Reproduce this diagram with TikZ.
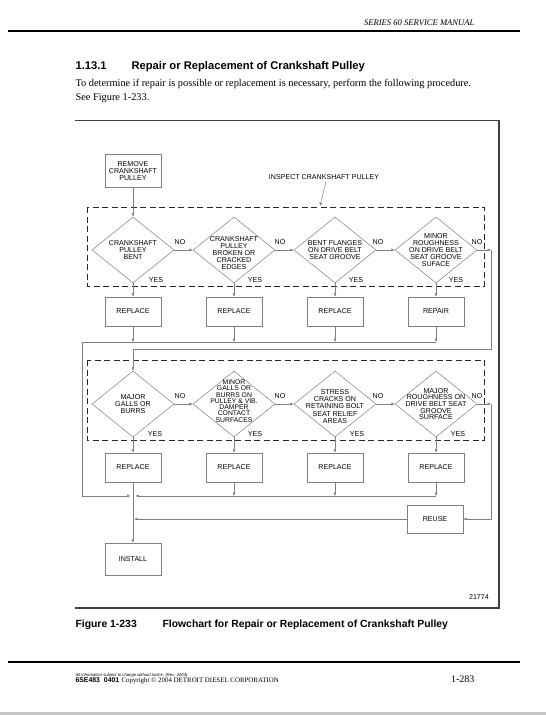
\documentclass[tikz,border=0pt]{standalone}
\usepackage{fontspec}
\setmainfont{Liberation Serif}
\setsansfont{Liberation Sans}
\usetikzlibrary{arrows.meta,shapes.geometric}

\definecolor{linegray}{gray}{0.5}
\definecolor{framegray}{gray}{0.25}
\newcommand{\diagfont}{\sffamily\fontsize{7.1}{7.2}\selectfont}

\begin{document}
\begin{tikzpicture}[x=1pt,y=-1pt]
\tikzset{
  stepbox/.style={rectangle,draw=linegray,line width=0.5pt,minimum width=56pt,minimum height=29pt,inner sep=0pt,font=\diagfont,align=center},
  decision/.style={diamond,draw=linegray,line width=0.5pt,minimum width=82pt,minimum height=66pt,inner sep=0pt},
  dtext/.style={font=\diagfont,align=center,inner sep=0pt},
  tag/.style={font=\diagfont,inner sep=0pt},
  flowline/.style={draw=linegray,line width=0.5pt},
  flowarrow/.style={flowline,-{Latex[length=3.4pt,width=3pt]}},
  stagebox/.style={draw=black!85,line width=0.9pt,dash pattern=on 6pt off 3.5pt}
}
\useasboundingbox (0,0) rectangle (546,715);
\fill[white] (0,0) rectangle (546,715);
\fill[black!22] (0,712) rectangle (546,715);

% page header and text
\node[anchor=base east,font=\itshape\fontsize{8.6}{10}\selectfont] (n_header) at (478,25) {SERIES 60 SERVICE MANUAL};
\draw[line width=2.2pt] (8,31) -- (520,31);
\node[anchor=base west,font=\sffamily\bfseries\fontsize{11.2}{13}\selectfont] (n_secnum) at (72,69) {1.13.1};
\node[anchor=base west,font=\sffamily\bfseries\fontsize{11.2}{13}\selectfont] (n_title) at (128,69) {Repair or Replacement of Crankshaft Pulley};
\node[anchor=base west,font=\fontsize{10.35}{12}\selectfont] (n_body1) at (72,86) {To determine if repair is possible or replacement is necessary, perform the following procedure.};
\node[anchor=base west,font=\fontsize{10.35}{12}\selectfont] (n_body2) at (72,100) {See Figure 1-233.};

% figure frame
\draw[framegray,line width=0.7pt] (75,120) -- (499,120);
\draw[framegray,line width=1.3pt] (499,119.7) -- (499,608) -- (75,608);
\node[tag,anchor=base east] (n_fignum) at (489,599) {21774};

% stage boxes
\draw[stagebox] (87,207) rectangle (484,286);
\draw[stagebox] (87,360) rectangle (484,440);
\node[tag] (n_inspect) at (324,177) {INSPECT CRANKSHAFT PULLEY};
\coordinate (c_stage) at (320,206);
\draw[flowarrow] (n_inspect.south) ++(2,2) -- (c_stage);

% nodes
\node[stepbox,minimum height=33pt] (n_remove) at (133,171) {REMOVE\\CRANKSHAFT\\PULLEY};

\node[decision,label={[dtext]center:{CRANKSHAFT\\PULLEY\\BENT}}] (n_q1) at (133,250) {};
\node[decision,label={[dtext,yshift=-3pt]center:{CRANKSHAFT\\PULLEY\\BROKEN OR\\CRACKED\\EDGES}}] (n_q2) at (234,250) {};
\node[decision,label={[dtext]center:{BENT FLANGES\\ON DRIVE BELT\\SEAT GROOVE}}] (n_q3) at (335,250) {};
\node[decision,label={[dtext]center:{MINOR\\ROUGHNESS\\ON DRIVE BELT\\SEAT GROOVE\\SUFACE}}] (n_q4) at (436,250) {};

\node[stepbox] (n_r1) at (133,311.5) {REPLACE};
\node[stepbox] (n_r2) at (234,311.5) {REPLACE};
\node[stepbox] (n_r3) at (335,311.5) {REPLACE};
\node[stepbox] (n_r4) at (436,311.5) {REPAIR};

\node[decision,label={[dtext]center:{MAJOR\\GALLS OR\\BURRS}}] (n_q5) at (133,404) {};
\node[decision,label={[dtext,yshift=3pt,font=\sffamily\fontsize{6.8}{6.3}\selectfont]center:{MINOR\\GALLS OR\\BURRS ON\\PULLEY \& VIB.\\DAMPER\\CONTACT\\SURFACES}}] (n_q6) at (234,404) {};
\node[decision,label={[dtext,yshift=-2.5pt]center:{STRESS\\CRACKS ON\\RETAINING BOLT\\SEAT RELIEF\\AREAS}}] (n_q7) at (335,404) {};
\node[decision,label={[dtext,font=\sffamily\fontsize{7.1}{6.7}\selectfont]center:{MAJOR\\ROUGHNESS ON\\DRIVE BELT SEAT\\GROOVE\\SURFACE}}] (n_q8) at (436,404) {};

\node[stepbox] (n_r5) at (133,467.5) {REPLACE};
\node[stepbox] (n_r6) at (234,467.5) {REPLACE};
\node[stepbox] (n_r7) at (335,467.5) {REPLACE};
\node[stepbox] (n_r8) at (436,467.5) {REPLACE};

\node[stepbox,minimum height=28pt] (n_reuse) at (435,519) {REUSE};
\node[stepbox,minimum height=32pt] (n_install) at (133,559) {INSTALL};

% yes / no tags
\node[tag] (n_no1) at (180,242) {NO};
\node[tag] (n_no2) at (280,242) {NO};
\node[tag] (n_no3) at (378,242) {NO};
\node[tag] (n_no4) at (477,242) {NO};
\node[tag] (n_no5) at (180,396) {NO};
\node[tag] (n_no6) at (280,396) {NO};
\node[tag] (n_no7) at (378,396) {NO};
\node[tag] (n_no8) at (477,396) {NO};
\node[tag] (n_yes1) at (156,280) {YES};
\node[tag] (n_yes2) at (255,280) {YES};
\node[tag] (n_yes3) at (356,280) {YES};
\node[tag] (n_yes4) at (456,280) {YES};
\node[tag] (n_yes5) at (155,434) {YES};
\node[tag] (n_yes6) at (255,434) {YES};
\node[tag] (n_yes7) at (357,434) {YES};
\node[tag] (n_yes8) at (458,434) {YES};

% junction points
\coordinate (c_right1) at (491,250);
\coordinate (c_loop) at (133,349);
\coordinate (c_right2) at (491,404);
\coordinate (c_bus1) at (133,342);
\coordinate (c_bus2) at (234,342);
\coordinate (c_bus3) at (335,342);
\coordinate (c_bus4) at (436,342);
\coordinate (c_left1) at (82,342);
\coordinate (c_left2) at (82,496);
\coordinate (c_join1) at (130.5,496);
\coordinate (c_join2) at (135.5,496);
\coordinate (c_bus6) at (234,496);
\coordinate (c_bus7) at (335,496);
\coordinate (c_bus8) at (436,496);
\coordinate (c_join3) at (134,519);

% connectors
\draw[flowarrow] (n_remove) -- (n_q1);
\draw[flowarrow] (n_q1) -- (n_q2);
\draw[flowarrow] (n_q2) -- (n_q3);
\draw[flowarrow] (n_q3) -- (n_q4);
\draw[flowarrow] (n_q4) -- (c_right1);
\draw[flowarrow] (c_right1) |- (c_loop) -- (n_q5);
\draw[flowarrow] (n_q1) -- (n_r1);
\draw[flowarrow] (n_q2) -- (n_r2);
\draw[flowarrow] (n_q3) -- (n_r3);
\draw[flowarrow] (n_q4) -- (n_r4);
\draw[flowarrow] (n_r1) -- (c_bus1);
\draw[flowarrow] (n_r2) -- (c_bus2);
\draw[flowarrow] (n_r3) -- (c_bus3);
\draw[flowarrow] (n_r4) -- (c_bus4);
\draw[flowarrow] (c_bus4) -- (c_left1) -- (c_left2) -- (c_join1);
\draw[flowarrow] (n_q5) -- (n_q6);
\draw[flowarrow] (n_q6) -- (n_q7);
\draw[flowarrow] (n_q7) -- (n_q8);
\draw[flowarrow] (n_q8) -- (c_right2);
\draw[flowarrow] (c_right2) |- (n_reuse);
\draw[flowarrow] (n_q5) -- (n_r5);
\draw[flowarrow] (n_q6) -- (n_r6);
\draw[flowarrow] (n_q7) -- (n_r7);
\draw[flowarrow] (n_q8) -- (n_r8);
\draw[flowarrow] (n_r6) -- (c_bus6);
\draw[flowarrow] (n_r7) -- (c_bus7);
\draw[flowarrow] (n_r8) -- (c_bus8);
\draw[flowarrow] (c_bus8) -- (c_join2);
\draw[flowarrow] (n_reuse) -- (c_join3);
\draw[flowarrow] (n_r5) -- (n_install);

% caption and footer
\node[anchor=base west,font=\sffamily\bfseries\fontsize{10.4}{12}\selectfont] (n_capnum) at (72,627) {Figure 1-233};
\node[anchor=base west,font=\sffamily\bfseries\fontsize{10.4}{12}\selectfont] (n_caption) at (159,627) {Flowchart for Repair or Replacement of Crankshaft Pulley};
\draw[line width=2.2pt] (8,662) -- (520,662);
\node[anchor=base west,font=\sffamily\itshape\fontsize{4.2}{5}\selectfont] (n_notice) at (72,676) {All information subject to change without notice.};
\node[anchor=base west,font=\sffamily\itshape\fontsize{4.2}{5}\selectfont] (n_rev) at (162,676) {(Rev. 2004)};
\node[anchor=base west,font=\sffamily\bfseries\fontsize{6.9}{8}\selectfont] (n_docnum) at (72,682.5) {6SE483\ \ 0401};
\node[anchor=base west,font=\fontsize{6.9}{8}\selectfont] (n_copy) at (118,682.5) {Copyright \textcopyright\ 2004 DETROIT DIESEL CORPORATION};
\node[anchor=base east,font=\fontsize{10}{12}\selectfont] (n_page) at (478,682.5) {1-283};
\end{tikzpicture}
\end{document}
